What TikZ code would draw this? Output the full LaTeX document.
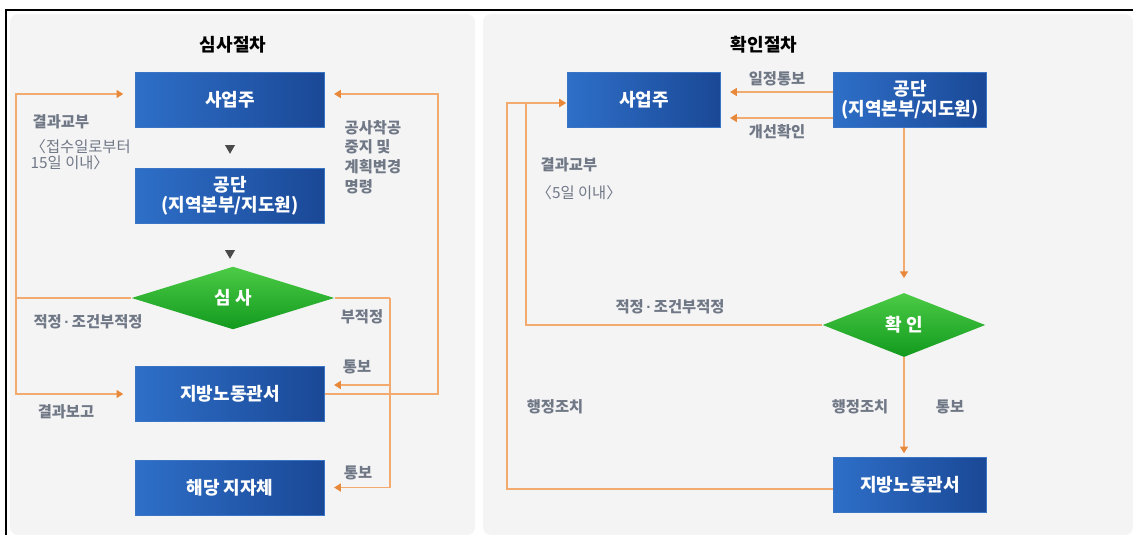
\documentclass[tikz,border=0pt]{standalone}
\usepackage{fontspec}
\setmainfont{Noto Sans CJK KR}
\newfontfamily\dotfont{Liberation Sans}
\usetikzlibrary{shapes.geometric,arrows.meta,positioning,calc}

\definecolor{panelgray}{HTML}{F4F4F5}
\definecolor{boxlight}{HTML}{2E6FC8}
\definecolor{boxdark}{HTML}{1A4896}
\definecolor{boxedge}{HTML}{3A74C4}
\definecolor{dialight}{HTML}{4CCB46}
\definecolor{diadark}{HTML}{129A1E}
\definecolor{notegray}{HTML}{707886}
\definecolor{lineorange}{HTML}{F2AA6E}
\definecolor{tiporange}{HTML}{E8883A}
\definecolor{trigray}{HTML}{4A4A4A}

\newcommand{\mdot}{\,{\dotfont\bfseries ·}\,}

\begin{document}
\begin{tikzpicture}[
    x=0.75pt, y=0.75pt,
    node distance=30pt,
    every node/.style={font=\fontsize{11.5}{13}\selectfont},
    bluebox/.style={rectangle, draw=boxedge, left color=boxlight, right color=boxdark, text=white, font=\fontsize{13.5}{15}\selectfont\bfseries, minimum width=141.75pt, minimum height=41.25pt, align=center, inner sep=0pt},
    greendia/.style={diamond, top color=dialight, bottom color=diadark, text=white, font=\fontsize{13.5}{15}\selectfont\bfseries, inner sep=0pt},
    note/.style={text=notegray, font=\fontsize{11.5}{13}\selectfont\bfseries},
    notelt/.style={text=notegray, font=\fontsize{11.5}{12}\selectfont},
    title/.style={font=\fontsize{13.5}{15}\selectfont\bfseries},
    line/.style={draw=lineorange, line width=1pt},
    flow/.style={line, -{Triangle[width=6pt,length=5pt,color=tiporange]}, shorten >=7pt},
    downtri/.style={regular polygon, regular polygon sides=3, shape border rotate=180, fill=trigray, inner sep=0pt, minimum size=8.7pt}
]
    \useasboundingbox (0,0) rectangle (1133,-535);

    % Panels and frame
    \fill[panelgray, rounded corners=6pt] (10,-14) rectangle (475,-535);
    \fill[panelgray, rounded corners=6pt] (483,-14) rectangle (1133,-535);
    \draw[line width=1.5pt] (6,-535) -- (6,-10) -- (1133,-10);

    % Review procedure
    \node[title] (ttlL) at (233,-45) {심사절차};
    \node[bluebox] (biz) at (230,-100) {사업주};
    \node[downtri] (tri1) at (230,-148) {};
    \node[bluebox, below=of biz] (kosha) {공단\\(지역본부/지도원)};
    \node[downtri] (tri2) at (230,-253) {};
    \node[greendia, minimum width=152pt, minimum height=47pt] (review) at (233,-298) {심 사};
    \node[bluebox] (labor) at (230,-394) {지방노동관서};
    \node[bluebox, below=28.5pt of labor] (local) {해당 지자체};

    \coordinate (lrail) at (16,-298);
    \coordinate (rrail) at (390,-298);
    \coordinate (orail) at (438,-394);

    \draw[line] (review.west) -- (lrail);
    \draw[flow, shorten >=9pt] (lrail) |- ($(biz.west)+(0,6)$);
    \draw[flow, shorten >=9pt] (lrail) |- (labor.west);
    \draw[line] (review.east) -- (rrail);
    \draw[flow] (rrail) |- (local.east);
    \draw[flow] ($(rrail)+(0,-87)$) -- ($(labor.east)+(0,9)$);
    \draw[flow] (labor.east) -- (orail) |- ($(biz.east)+(0,6)$);

    \node[note, anchor=west] (resL) at (28,-122) {결과교부};
    \node[notelt, anchor=west, align=left] (dueL) at (26,-155) {〈접수일로부터\\15일 이내〉};
    \node[note, anchor=west, align=left, font=\fontsize{11.5}{14.8}\selectfont\bfseries] (stopL) at (340,-157) {공사착공\\중지 및\\계획변경\\명령};
    \node[note] (okL) at (88,-322) {적정\mdot 조건부적정};
    \node[note] (ngL) at (362,-317) {부적정};
    \node[note] (ntcL1) at (357,-367) {통보};
    \node[note] (ntcL2) at (358,-473) {통보};
    \node[note] (rptL) at (66,-412) {결과보고};

    % Check procedure
    \node[title] (ttlR) at (764,-45) {확인절차};
    \node[bluebox, minimum width=114.75pt] (bizR) at (644,-100) {사업주};
    \node[bluebox, minimum width=114.75pt] (koshaR) at (910,-100) {공단\\(지역본부/지도원)};
    \node[greendia, minimum width=122pt, minimum height=48pt] (check) at (904,-325) {확 인};
    \node[bluebox, minimum width=114.75pt] (laborR) at (910,-485) {지방노동관서};

    \coordinate (irailR) at (526,-325);
    \coordinate (orailR) at (507,-489);

    \draw[flow] ($(koshaR.west)+(0,8)$) -- node[note, above=1pt] {일정통보} ($(bizR.east)+(0,8)$);
    \draw[flow] ($(koshaR.west)+(0,-18)$) -- node[note, below=1pt] {개선확인} ($(bizR.east)+(0,-18)$);
    \draw[flow, shorten >=11pt] (koshaR.south -| check.north) -- (check.north);
    \draw[flow, shorten >=3pt] (check.south) -- (check.south |- laborR.north);
    \draw[flow, shorten >=1pt] (check.west) -- (irailR) |- ($(bizR.west)+(0,-3)$);
    \draw[flow, shorten >=1pt] ($(laborR.west)+(0,-4)$) -- (orailR) |- ($(bizR.west)+(0,-3)$);

    \node[note, anchor=west] (resR) at (536,-165) {결과교부};
    \node[notelt, anchor=west] (dueR) at (532,-193) {〈5일 이내〉};
    \node[note] (okR) at (670,-307) {적정\mdot 조건부적정};
    \node[note] (admR1) at (555,-407) {행정조치};
    \node[note] (admR2) at (860,-407) {행정조치};
    \node[note] (ntcR) at (950,-407) {통보};

\end{tikzpicture}
\end{document}
